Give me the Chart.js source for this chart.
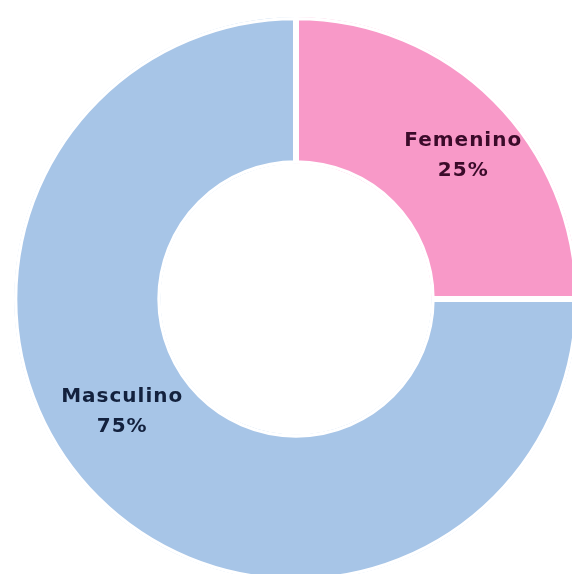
<!DOCTYPE html>
<html>
<head>
<meta charset="utf-8">
<script src="https://cdn.jsdelivr.net/npm/chart.js@4"></script>
<style>
  html, body { margin: 0; padding: 0; background: #fff; overflow: hidden; }
  #wrap { position: absolute; left: 0; top: 0; width: 592px; height: 598px; }
</style>
</head>
<body>
<div id="wrap"><canvas id="genderChart"></canvas></div>
<script>
// ==================== DATA ====================
const LABELS = ['Femenino', 'Masculino'];
const VALUES = [25, 75];
const COLORS = ['#f899c8', '#a7c5e7'];
const TEXT_COLORS = ['#3b0b2a', '#13213d'];

// shift of each label from the slice middle (degrees, radius factor)
const LABEL_SHIFT = [
  { angle: 4.5, r: 0.78 },
  { angle: 12, r: 0.735 }
];

const sliceLabels = {
  id: 'sliceLabels',
  afterDatasetsDraw(chart) {
    const { ctx } = chart;
    const meta = chart.getDatasetMeta(0);
    const total = VALUES.reduce((a, b) => a + b, 0);
    ctx.save();
    ctx.font = 'bold 20px "DejaVu Sans", sans-serif';
    ctx.letterSpacing = '1px';
    ctx.textAlign = 'center';
    ctx.textBaseline = 'middle';
    meta.data.forEach((arc, i) => {
      const p = arc.getProps(['x', 'y', 'startAngle', 'endAngle', 'outerRadius'], true);
      const mid = (p.startAngle + p.endAngle) / 2 + LABEL_SHIFT[i].angle * Math.PI / 180;
      const r = p.outerRadius * LABEL_SHIFT[i].r;
      const x = p.x + Math.cos(mid) * r;
      const y = p.y + Math.sin(mid) * r;
      ctx.fillStyle = TEXT_COLORS[i];
      ctx.fillText(LABELS[i], x, y - 15);
      ctx.fillText(Math.round(VALUES[i] / total * 100) + '%', x, y + 15);
    });
    ctx.restore();
  }
};

new Chart(document.getElementById('genderChart'), {
  type: 'doughnut',
  data: {
    labels: LABELS,
    datasets: [{
      data: VALUES,
      backgroundColor: COLORS,
      borderColor: '#ffffff',
      borderWidth: 3,
      borderAlign: 'inner'
    }]
  },
  options: {
    responsive: true,
    maintainAspectRatio: false,
    animation: false,
    cutout: '48%',
    layout: { padding: { top: 17, left: 14, right: 14, bottom: 17 } },
    plugins: {
      legend: { display: false },
      tooltip: { enabled: false }
    }
  },
  plugins: [sliceLabels]
});
</script>
</body>
</html>
